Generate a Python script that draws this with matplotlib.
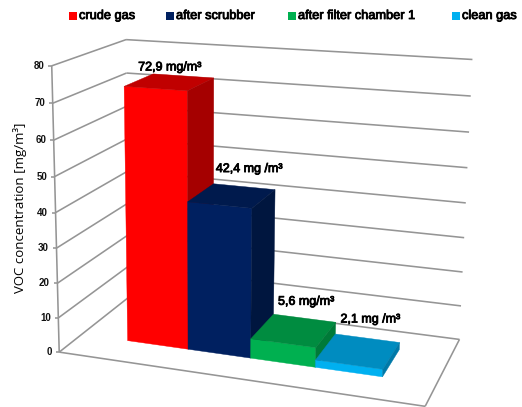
import numpy as np
import matplotlib
matplotlib.use("Agg")
import matplotlib.pyplot as plt
import matplotlib.patheffects as pe
from matplotlib.patches import Polygon, Rectangle

plt.rcParams["font.family"] = ["Liberation Sans", "DejaVu Sans"]

# Chart content
categories = ["crude gas", "after scrubber", "after filter chamber 1", "clean gas"]
values = [72.9, 42.4, 5.6, 2.1]
value_labels = ["72,9 mg/m³", "42,4 mg /m³", "5,6 mg/m³", "2,1 mg /m³"]
value_ticks = [0, 10, 20, 30, 40, 50, 60, 70, 80]
y_title = "VOC concentration [mg/m³]"

# Face colours: front, top, side
front_colors = ["#FF0000", "#002060", "#00B050", "#00B0F0"]
top_colors = ["#C00000", "#001A4D", "#008C40", "#008CC0"]
side_colors = ["#A50000", "#00163F", "#007A38", "#0079A8"]
GRID = "#959595"

W, H = 522, 407
Z_MAX = 80

# Box corners (across, depth, value) and where they land in the canvas
box_3d = [(0, 0, 0), (1, 0, 0), (1, 1, 0), (0, 1, 0), (0, 0, Z_MAX), (0, 1, Z_MAX), (1, 1, Z_MAX)]
box_2d = [(61, 350), (425, 408.5), (460, 337), (127.5, 299), (50, 66), (128, 39), (472, 60)]


def fit_projection(src, dst):
    rows, rhs = [], []
    for (x, y, z), (u, v) in zip(src, dst):
        z = z / Z_MAX
        rows.append([x, y, z, 1, 0, 0, 0, 0, -u * x, -u * y, -u * z])
        rhs.append(u)
        rows.append([0, 0, 0, 0, x, y, z, 1, -v * x, -v * y, -v * z])
        rhs.append(v)
    sol = np.linalg.lstsq(np.array(rows, float), np.array(rhs, float), rcond=None)[0]
    return np.append(sol, 1.0).reshape(3, 4)


P = fit_projection(box_3d, box_2d)


def project(x, y, z):
    p = P @ np.array([x, y, z / Z_MAX, 1.0])
    return p[0] / p[2], p[1] / p[2]


fig = plt.figure(figsize=(W / 100, H / 100), dpi=100)
ax = fig.add_axes([0, 0, 1, 1])
ax.set_xlim(0, W)
ax.set_ylim(H, 0)
ax.axis("off")

# Thin outline thickens the regular face so the small text reads heavier
heavy = [pe.withStroke(linewidth=0.6, foreground="black")]


def seg(a, b, lw=1.15):
    ax.plot(*zip(a, b), color=GRID, lw=lw, solid_capstyle="butt", zorder=1)


# Walls and floor
for t in value_ticks:
    fl, bl, br = project(0, 0, t), project(0, 1, t), project(1, 1, t)
    seg(fl, bl)
    seg(bl, br)
    seg((fl[0] - 3.5, fl[1]), fl)
    ax.text(fl[0] - 7.5, fl[1], str(t), ha="right", va="center", fontsize=7,
            fontweight="bold", color="#111111")
seg(project(0, 0, 0), project(0, 0, Z_MAX))
seg(project(0, 0, 0), project(1, 0, 0))
seg(project(1, 0, 0), project(1, 1, 0))

# Columns, left to right so nearer sides overlap correctly
gap = 0.14
width = (1 - 2 * gap) / len(values)
d0, d1 = 0.30, 0.72
label_shift = [(0, -15), (17, -27), (12, -29), (12, -32)]
for i, val in enumerate(values):
    x0, x1 = gap + i * width, gap + (i + 1) * width
    faces = [
        ([(x0, d0, 0), (x1, d0, 0), (x1, d0, val), (x0, d0, val)], front_colors[i]),
        ([(x0, d0, val), (x1, d0, val), (x1, d1, val), (x0, d1, val)], top_colors[i]),
        ([(x1, d0, 0), (x1, d1, 0), (x1, d1, val), (x1, d0, val)], side_colors[i]),
    ]
    for corners, color in faces:
        ax.add_patch(Polygon([project(*c) for c in corners], closed=True, facecolor=color,
                             edgecolor=color, lw=0.3, zorder=2 + i))
    cx, cy = project((x0 + x1) / 2, (d0 + d1) / 2, val)
    ax.text(cx + label_shift[i][0], cy + label_shift[i][1], value_labels[i], ha="center",
            va="center", fontsize=9, color="black", zorder=10, path_effects=heavy)

# Legend row
swatches = [69, 166, 288, 452]
for left, name, color in zip(swatches, categories, front_colors):
    ax.add_patch(Rectangle((left, 12), 7.5, 8, facecolor=color, edgecolor="none"))
    ax.text(left + 10, 16, name, ha="left", va="center", fontsize=9.2,
            color="black", path_effects=heavy)

ax.text(20, 208, y_title, rotation=90, ha="center", va="center", fontsize=9.5, color="black",
        family=["Open Sans", "DejaVu Sans"])

fig.savefig("out.png", dpi=100, facecolor="white")
